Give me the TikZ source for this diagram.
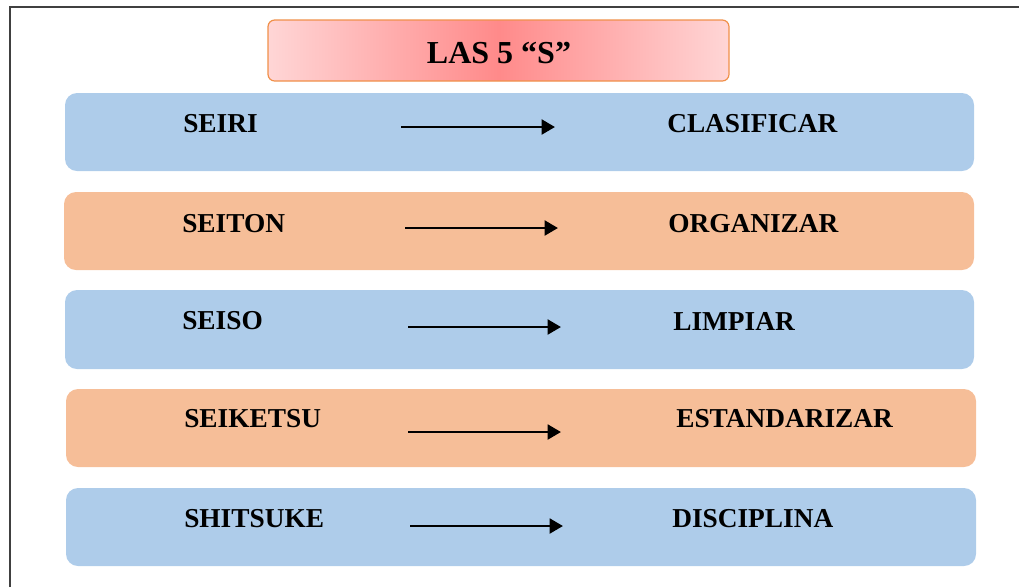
\documentclass[tikz,border=0pt]{standalone}
\usepackage{fontspec}
\setmainfont{Liberation Serif}
\usetikzlibrary{arrows.meta}

\definecolor{rowblue}{RGB}{174,204,234}
\definecolor{rowpeach}{RGB}{246,190,152}
\definecolor{titlepale}{RGB}{255,214,214}
\definecolor{titlered}{RGB}{255,138,138}
\definecolor{titleline}{RGB}{240,144,74}

\tikzset{
  rowbox/.style={rounded corners=9pt, draw=none},
  rowtext/.style={anchor=west, inner sep=0pt, font=\fontsize{20.5}{24}\selectfont\bfseries},
  sarrow/.style={line width=2.2pt, -{Triangle[length=10pt,width=11pt]}},
}

\begin{document}
\begin{tikzpicture}[x=0.75pt,y=0.75pt,yscale=-1,xscale=1]
\useasboundingbox (0,0) rectangle (1019,587);

%Frame lines
\draw [line width=1.5pt, black!75] (10,587) -- (10,7) -- (1019,7) ;

%Title box
\draw [rounded corners=5pt, draw=titleline, line width=0.9pt, left color=titlepale, right color=titlepale, middle color=titlered] (268,20) rectangle (729,81) ;
% Text Node
\node (title) at (499,53) [inner sep=0pt, font=\fontsize{24}{28}\selectfont\bfseries] {LAS 5 “S”};

%Row 1
\fill [rowbox, rowblue] (65,93) rectangle (974,171) ;
% Text Node
\node (seiri) at (183,124) [rowtext] {SEIRI};
% Text Node
\node (clasificar) at (667,124) [rowtext] {CLASIFICAR};
%Straight Lines
\coordinate (a1) at (401,127) ;
\coordinate (b1) at (555,127) ;
\draw [sarrow] (a1) -- (b1) ;

%Row 2
\fill [rowbox, rowpeach] (64,192) rectangle (974,270) ;
% Text Node
\node (seiton) at (182,224) [rowtext] {SEITON};
% Text Node
\node (organizar) at (668,224) [rowtext] {ORGANIZAR};
%Straight Lines
\coordinate (a2) at (405,228) ;
\coordinate (b2) at (558,228) ;
\draw [sarrow] (a2) -- (b2) ;

%Row 3
\fill [rowbox, rowblue] (65,290) rectangle (974,369) ;
% Text Node
\node (seiso) at (182,321) [rowtext] {SEISO};
% Text Node
\node (limpiar) at (673,321) [rowtext] {LIMPIAR};
%Straight Lines
\coordinate (a3) at (408,327) ;
\coordinate (b3) at (561,327) ;
\draw [sarrow] (a3) -- (b3) ;

%Row 4
\fill [rowbox, rowpeach] (66,389) rectangle (976,467) ;
% Text Node
\node (seiketsu) at (184,419) [rowtext] {SEIKETSU};
% Text Node
\node (estandarizar) at (676,419) [rowtext] {ESTANDARIZAR};
%Straight Lines
\coordinate (a4) at (408,432) ;
\coordinate (b4) at (561,432) ;
\draw [sarrow] (a4) -- (b4) ;

%Row 5
\fill [rowbox, rowblue] (66,488) rectangle (976,566) ;
% Text Node
\node (shitsuke) at (184,519) [rowtext] {SHITSUKE};
% Text Node
\node (disciplina) at (672,519) [rowtext] {DISCIPLINA};
%Straight Lines
\coordinate (a5) at (410,526) ;
\coordinate (b5) at (563,526) ;
\draw [sarrow] (a5) -- (b5) ;

\end{tikzpicture}
\end{document}
